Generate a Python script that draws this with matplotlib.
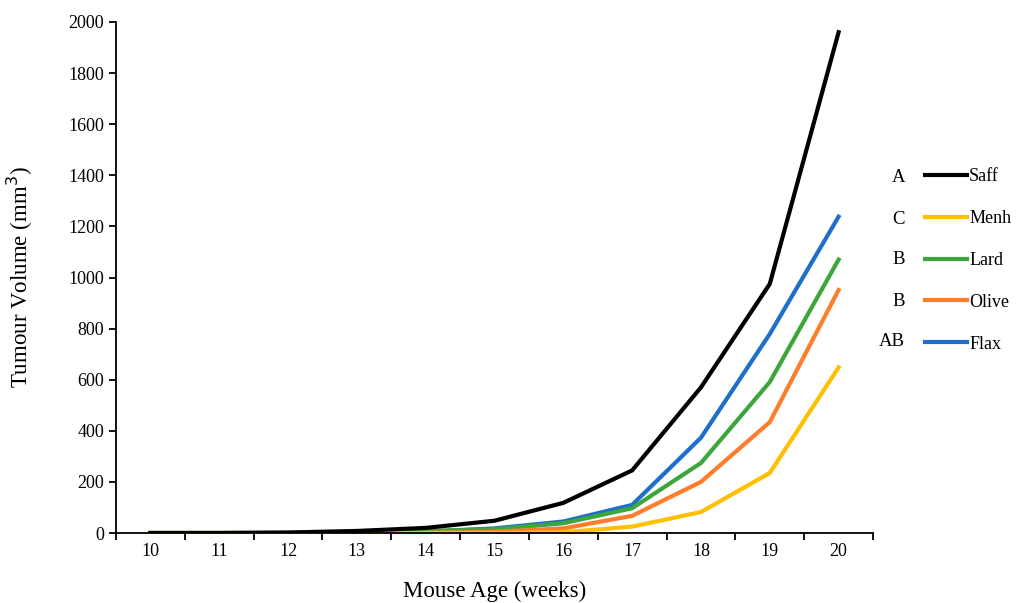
import numpy as np
import matplotlib
matplotlib.use("Agg")
import matplotlib.pyplot as plt

plt.rcParams['font.family'] = ['Liberation Serif', 'DejaVu Serif']

weeks = [10, 11, 12, 13, 14, 15, 16, 17, 18, 19, 20]
saff = [0, 0, 2, 8, 20, 48, 118, 245, 570, 975, 1960]
menh = [0, 0, 0, 0, 0, 0, 3, 25, 82, 235, 648]
lard = [0, 0, 0, 2, 8, 15, 38, 97, 274, 591, 1070]
olive = [0, 0, 0, 0, 0, 5, 18, 67, 200, 434, 951]
flax = [0, 0, 0, 1, 5, 18, 45, 110, 373, 779, 1238]

series_names = ["Saff", "Menh", "Lard", "Olive", "Flax"]
series_letters = ["A", "C", "B", "B", "AB"]
series_values = [saff, menh, lard, olive, flax]
series_colors = ["#000000", "#FFC000", "#3DA63A", "#FF7D2A", "#1D6FCB"]

yticks = [0, 200, 400, 600, 800, 1000, 1200, 1400, 1600, 1800, 2000]

fig = plt.figure(figsize=(10.17, 6.03), dpi=100)
ax = fig.add_axes([116 / 1017, 1 - 533 / 603, (873 - 116) / 1017, (533 - 22) / 603])

# draw Flax first so black sits on top, like the original
order = [4, 2, 3, 1, 0]
lines = {}
for i in order:
    ln, = ax.plot(weeks, series_values[i], color=series_colors[i], lw=3,
                  solid_joinstyle='miter', label=series_names[i])
    lines[i] = ln

ax.set_xlim(9.5, 20.5)
ax.set_ylim(0, 2000)
ax.set_yticks(yticks)
ax.set_xticks(weeks)
ax.set_xticks(np.arange(9.5, 21, 1), minor=True)
ax.tick_params(axis='x', which='major', length=0, pad=7, labelsize=13)
ax.tick_params(axis='x', which='minor', length=5, width=1.3, direction='out')
ax.tick_params(axis='y', length=5, width=1.3, direction='out', labelsize=13)

for s in ['top', 'right']:
    ax.spines[s].set_visible(False)
for s in ['left', 'bottom']:
    ax.spines[s].set_linewidth(1.3)

ax.set_xlabel("Mouse Age (weeks)", fontsize=16.5, labelpad=15)
ax.set_ylabel("Tumour Volume (mm$^3$)", fontsize=16.5, labelpad=24)

handles = [lines[i] for i in range(5)]
leg = fig.legend(handles, series_names, loc='upper left',
                 bbox_to_anchor=(925 / 1017, 1 - 168 / 603), frameon=False,
                 fontsize=13, handlelength=2.35, handletextpad=0.1,
                 labelspacing=1.38, borderaxespad=0, borderpad=0)

letter_y = [178, 220, 260, 301, 341]
for k, letter in enumerate(series_letters):
    fig.text(905 / 1017, 1 - letter_y[k] / 603, letter, fontsize=13.5,
             ha='right', va='center')

fig.savefig("out.png", dpi=100)
